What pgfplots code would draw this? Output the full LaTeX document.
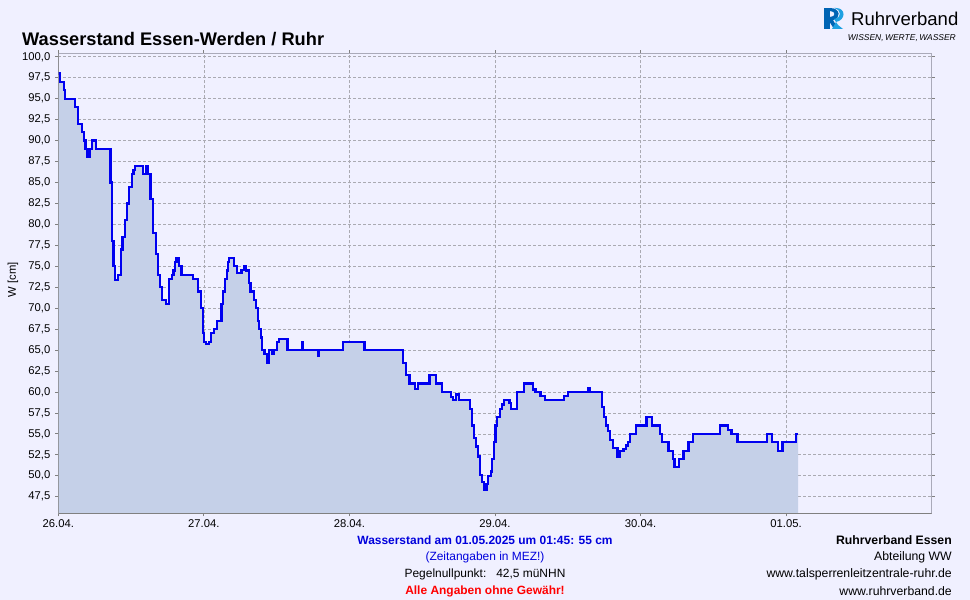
\documentclass[border=0pt]{standalone}
\usepackage{pgfplots}
\pgfplotsset{compat=1.18}
\usepackage{fontspec}
\setmainfont{Liberation Sans}
\definecolor{bg}{RGB}{240,240,255}
\definecolor{fillc}{RGB}{197,208,232}
\definecolor{linec}{RGB}{0,0,240}
\definecolor{gridc}{RGB}{170,170,178}
\definecolor{axc}{RGB}{128,128,128}
\definecolor{axl}{RGB}{170,170,185}
\definecolor{tblue}{RGB}{0,0,220}
\definecolor{logodark}{RGB}{0,100,180}
\definecolor{logolight}{RGB}{30,160,225}
\begin{document}
\begin{tikzpicture}[x=1bp,y=1bp]
\fill[bg] (0,0) rectangle (970,600);
\begin{axis}[
  at={(58.3bp,86.7bp)}, anchor=south west,
  width=873.3bp, height=460bp, scale only axis,
  xmin=0, xmax=144, ymin=45.52, ymax=100.42,
  axis background/.style={fill=bg},
  axis line style={axl, line width=0.8bp},
  xtick={0,24,48,72,96,120},
  xticklabels={26.04.,27.04.,28.04.,29.04.,30.04.,01.05.},
  ytick={47.5,50,...,100},
  /pgf/number format/.cd, fixed, fixed zerofill, precision=1, use comma, assume math mode=true,
  /pgfplots/.cd,
  tick label style={font=\fontsize{11.3}{13}\selectfont},
  yticklabel style={xshift=-1.5bp},
  xticklabel style={yshift=0bp},
  tick align=outside, major tick length=3bp,
  tick style={axc, line width=0.8bp},
  grid=major,
  major grid style={gridc, dashed, line width=0.7bp, dash pattern=on 3bp off 2bp},
  clip=true,
]
\pgfplotstableread{
h v
0 98
0.25 97
0.9 96
1.1 95
2.8 94
3.3 92
3.9 91
4.2 90
4.5 89
4.8 88
5.2 89
5.5 90
6.2 89
8.6 85
8.8 78
9.1 75
9.3 73.4
9.8 74
10.3 77
10.6 78.5
11.0 80.5
11.3 82.5
11.7 84.5
12.1 86
12.4 86.5
12.7 87
14.0 86
14.4 87
14.7 86
15.2 83
15.6 79
16.1 76.5
16.5 74
16.8 72.5
17.1 71
17.8 70.5
18.3 73.5
18.7 74
19.0 74.5
19.2 75.5
19.5 76
19.9 75
20.3 74
22.2 73.5
23.0 72
23.5 70
23.8 67
24.0 66
24.3 65.7
24.8 66
25.2 67
25.7 67.5
26.2 68.5
26.9 70.5
27.2 72
27.5 73.5
27.8 74.5
28.0 75.5
28.2 76
29.0 75
29.5 74.2
30.2 74.6
30.6 75
31.0 74.5
31.4 73
31.7 72
32.3 71
32.6 70
32.9 68.5
33.1 67.5
33.4 66.5
33.6 65
34.0 64.5
34.4 63.5
34.7 65
35.0 65
35.3 64.5
35.6 65
36.0 66
36.4 66.3
37.8 65
40.2 66
40.4 65
42.8 64.3
43.0 65
47.0 66
50.5 65
56.9 63.5
57.3 62
57.9 61
58.8 60.4
59.3 61
61.2 62
62.3 61
63.3 60
64.7 59.4
65.1 59
65.6 59.7
66.1 59
67.9 58
68.2 56
68.5 54.5
68.9 53.5
69.2 52.3
69.5 50.1
69.9 49.3
70.2 48.3
70.6 49
70.9 50
71.3 50.5
71.5 52
71.8 54
72.1 56
72.4 57
72.8 58
73.1 58.5
73.5 59
74.4 58.7
74.7 58
75.6 60
76.8 61
78.3 60.3
78.7 60
79.5 59.5
80.2 59
83.4 59.5
84.0 60
87.3 60.5
87.7 60
89.6 58.2
90.0 57
90.3 56
90.6 55.3
91.0 54.3
91.5 53.3
92.2 52.2
92.6 53
93.2 53.2
93.6 53.6
93.9 54
94.3 55
95.2 56
97.0 57
97.9 56
99.2 55
99.6 54
100.6 53
101.3 52
101.6 51
102.4 52
103.1 53
103.9 54
104.6 55
109.1 56
110.4 55.5
111.0 55
112.0 54
116.9 55
117.7 54
118.7 53
119.4 54
121.7 55
122.0 55
}\datatable
\addplot[const plot, fill=fillc, draw=none] table[x=h,y=v]{\datatable} \closedcycle;
\addplot[const plot, draw=linec, line width=2.2bp] table[x=h,y=v]{\datatable};
\draw[axc, line width=1bp] (rel axis cs:0,1) -- (rel axis cs:0,0) -- (rel axis cs:1,0);
\end{axis}
% y label
\node[rotate=90, font=\fontsize{11.3}{13}\selectfont] at (13,320) {W [cm]};
% title
\node[anchor=base west, inner sep=0, font=\fontsize{18.3}{20}\selectfont\bfseries] at (22,554) {Wasserstand Essen-Werden / Ruhr};
% logo
\fill[logodark] (824,571) rectangle (830,592);
\fill[logodark] (830,592) .. controls (841,592) and (841,581) .. (833,580) -- (838,571) -- (834,571) -- (829,579) -- (830,583) .. controls (836,583) and (836,589) .. (830,589) -- cycle;
\fill[logolight] (832,571) -- (836,578) .. controls (846,580) and (846,592) .. (836,592) -- (834,592) .. controls (842,590) and (842,582) .. (834,581) -- (838,575) -- (843,571) -- cycle;
\node[anchor=base west, inner sep=0, font=\fontsize{18.6}{22}\selectfont] at (851,574) {Ruhrverband};
\node[anchor=base east, inner sep=0, font=\fontsize{8.5}{10}\selectfont\itshape] at (956,559) {WISSEN,\,WERTE,\,WASSER};
% footer
\node[font=\fontsize{12}{14}\selectfont\bfseries, text=tblue] at (485,60) {Wasserstand am 01.05.2025 um 01:45: 55 cm};
\node[font=\fontsize{12}{14}\selectfont, text=tblue] at (485,43) {(Zeitangaben in MEZ!)};
\node[font=\fontsize{12}{14}\selectfont] at (485,26) {Pegelnullpunkt:\ \ \ 42,5 müNHN};
\node[font=\fontsize{12}{14}\selectfont\bfseries, text=red] at (485,9) {Alle Angaben ohne Gewähr!};
\node[anchor=east, inner sep=0, font=\fontsize{12.3}{14}\selectfont\bfseries] at (952,60) {Ruhrverband Essen};
\node[anchor=east, inner sep=0, font=\fontsize{12.3}{14}\selectfont] at (952,43) {Abteilung WW};
\node[anchor=east, inner sep=0, font=\fontsize{12.3}{14}\selectfont] at (952,26) {www.talsperrenleitzentrale-ruhr.de};
\node[anchor=east, inner sep=0, font=\fontsize{12.3}{14}\selectfont] at (952,9) {www.ruhrverband.de};
\end{tikzpicture}
\end{document}
